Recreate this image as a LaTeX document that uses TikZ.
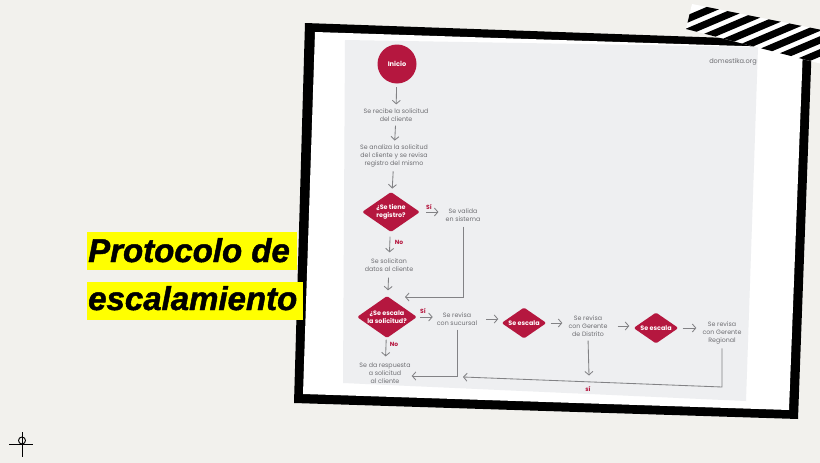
\documentclass[tikz,border=0pt]{standalone}
\usepackage{fontspec}
\setmainfont{Liberation Sans}
\newfontfamily\fc{Poppins}
\newfontfamily\tfont{Liberation Sans Bold Italic}[FakeBold=1.4]
\usetikzlibrary{shapes.geometric,arrows.meta,calc}
\definecolor{bg}{HTML}{F2F1ED}
\definecolor{panel}{HTML}{EEEFF1}
\definecolor{crim}{HTML}{B5173F}
\definecolor{tg}{HTML}{6E6E72}
\definecolor{lg}{HTML}{828285}
\definecolor{hl}{HTML}{FFFF00}
\begin{document}
\begin{tikzpicture}[x=1pt,y=-1pt,
  txt/.style={font=\fc\fontsize{6.3}{8}\selectfont, text=tg, align=center, inner sep=1pt},
  dia/.style={diamond, fill=crim, text=white, font=\fc\bfseries\fontsize{6.4}{7.6}\selectfont, align=center, inner sep=0pt, rounded corners=1.5pt},
  arr/.style={draw=lg, line width=0.85pt, -{Straight Barb[length=3.5pt,width=8pt]}},
  lab/.style={font=\fc\bfseries\fontsize{6}{6}\selectfont, text=crim, inner sep=0pt},
  ttl/.style={font=\tfont\fontsize{33}{36}\selectfont, anchor=base west, inner sep=0pt}
]
\useasboundingbox (0,0) rectangle (820,463);
\fill[bg] (0,0) rectangle (820,463);

% frame
\fill[black] (305,23) -- (812,41) -- (798,419) -- (294,403) -- cycle;
\fill[white] (315,32) -- (803,48) -- (789,410) -- (303,394) -- cycle;
\fill[panel] (345,40) -- (758,47) -- (746,401) -- (343,383) -- cycle;

% flowchart nodes
\node[circle, fill=crim, minimum size=39pt, inner sep=0pt, text=white, font=\fc\bfseries\fontsize{6.6}{7}\selectfont] (inicio) at (397,64) {Inicio};
\node[txt] (t1) at (396,115) {Se recibe la solicitud\\del cliente};
\node[txt] (t2) at (394,156) {Se analiza la solicitud\\del cliente y se revisa\\registro del mismo};
\node[dia, minimum width=58pt, minimum height=40pt, shape aspect=1.45] (d1) at (391,212) {¿Se tiene\\registro?};
\node[txt] (t3) at (463,215) {Se valida\\en sistema};
\node[txt] (t4) at (389,265) {Se solicitan\\datos al cliente};
\node[dia, minimum width=60pt, minimum height=42pt, shape aspect=1.43] (d2) at (387,317) {¿Se escala\\la solicitud?};
\node[txt] (t5) at (457,319) {Se revisa\\con sucursal};
\node[dia, minimum width=45pt, minimum height=31pt, shape aspect=1.45] (d3) at (524,323) {Se escala};
\node[txt] (t6) at (588,326) {Se revisa\\con Gerente\\de Distrito};
\node[dia, minimum width=45pt, minimum height=31pt, shape aspect=1.45] (d4) at (656,328) {Se escala};
\node[txt] (t7) at (722,333) {Se revisa\\con Gerente\\Regional};
\node[txt] (t8) at (385,373) {Se da respuesta\\a solicitud\\al cliente};
\node[txt, font=\fc\fontsize{6.6}{8}\selectfont] (dom) at (733,62) {domestika.org};

% labels
\node[lab] (s1) at (429,207) {Sí};
\node[lab] (n1) at (399,242) {No};
\node[lab] (s2) at (423,311) {Sí};
\node[lab] (n2) at (394,344) {No};
\node[lab] (s3) at (588,389) {sí};

% connectors
\coordinate (m1) at (405,297);
\coordinate (c7) at (720,387);
\coordinate (j2) at (463,377);
\coordinate (j3) at (589,375.5);
\draw[arr, shorten <=3.5pt, shorten >=3pt] (inicio) -- (t1);
\draw[arr, shorten <=3pt, shorten >=3pt] (t1) -- (t2);
\draw[arr, shorten <=3pt, shorten >=4pt] (t2) -- (d1);
\draw[arr, shorten <=5pt, shorten >=5pt] (d1) -- (t4);
\draw[arr, shorten <=5pt, shorten >=6pt] (t4) -- (d2);
\draw[arr, shorten <=2pt, shorten >=5pt] (d2) -- (t8);
\draw[arr, shorten <=6pt, shorten >=6pt] (d1.east) -- (d1.east -| t3.west);
\draw[arr, shorten <=4pt] (t3.south) |- (m1);
\draw[arr, shorten <=3pt, shorten >=3pt] (d2.east) -- (d2.east -| t5.west);
\draw[arr, shorten <=8pt, shorten >=3pt] (t5.east) -- (t5.east -| d3.west);
\draw[arr, shorten <=4pt, shorten >=5pt] (d3.east) -- (d3.east -| t6.west);
\draw[arr, shorten <=9pt, shorten >=4pt] (t6.east) -- (t6.east -| d4.west);
\draw[arr, shorten <=4pt, shorten >=5pt] (d4.east) -- (d4.east -| t7.west);
\draw[arr, shorten <=3pt] (t5.south) |- ([yshift=-3pt]t8.east);
\draw[arr, shorten <=3pt] (t7.south) -- (t7.south |- c7) -- (j2);
\draw[arr, shorten <=3pt] (t6.south) -- (j3);

% tape
\begin{scope}
\clip (692,4) -- (822,30) -- (822,64) -- (686,29) -- cycle;
\fill[white] (680,0) rectangle (822,70);
\foreach \i in {0,...,7} {
  \draw[line width=7pt, black] ($(692,17)+\i*(20,4.4)+(-40,17)$) -- ++(80,-34);
}
\end{scope}

% title
\fill[hl] (87,232) rectangle (297,270);
\fill[hl] (87,282) rectangle (303,320);
\node[ttl] (ti1) at (88,262) {Protocolo de};
\node[ttl] (ti2) at (88,310) {escalamiento};

% registration mark
\draw[line width=0.9pt] (9,444) -- (33,444);
\draw[line width=0.9pt] (22,432) -- (22,457);
\draw[line width=0.9pt] (22,440.5) circle (3.5);
\end{tikzpicture}
\end{document}
